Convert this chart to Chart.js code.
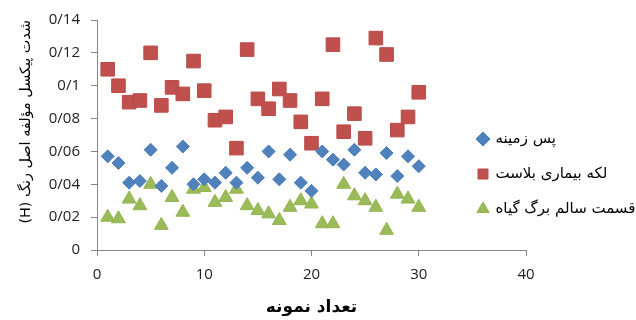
<!DOCTYPE html>
<html>
<head>
<meta charset="utf-8">
<script src="https://cdn.jsdelivr.net/npm/chart.js@4/dist/chart.umd.min.js"></script>
<style>
  html, body { margin: 0; padding: 0; background: #fff; }
  #wrap { width: 636px; height: 320px; }
</style>
</head>
<body>
<div id="wrap"><canvas id="c" dir="rtl" width="636" height="320"></canvas></div>
<script>
// ---- data ----
const sampleIndex = [1,2,3,4,5,6,7,8,9,10,11,12,13,14,15,16,17,18,19,20,21,22,23,24,25,26,27,28,29,30];
const seriesNames = ['پس زمینه', 'لکه بیماری بلاست', 'قسمت سالم برگ گیاه'];
const backgroundValues = [0.057,0.053,0.041,0.042,0.061,0.039,0.050,0.063,0.040,0.043,0.041,0.047,0.041,0.050,0.044,0.060,0.043,0.058,0.041,0.036,0.060,0.055,0.052,0.061,0.047,0.046,0.059,0.045,0.057,0.051];
const blastValues = [0.110,0.100,0.090,0.091,0.120,0.088,0.099,0.095,0.115,0.097,0.079,0.081,0.062,0.122,0.092,0.086,0.098,0.091,0.078,0.065,0.092,0.125,0.072,0.083,0.068,0.129,0.119,0.073,0.081,0.096];
const healthyValues = [0.020,0.019,0.031,0.027,0.040,0.015,0.032,0.023,0.037,0.038,0.029,0.032,0.037,0.027,0.024,0.022,0.018,0.026,0.030,0.028,0.016,0.016,0.040,0.033,0.030,0.026,0.012,0.034,0.031,0.026];
const xTickLabels = ['0','10','20','30','40'];
const yTickLabels = ['0','0/02','0/04','0/06','0/08','0/1','0/12','0/14'];
const xTitle = 'تعداد نمونه';
const yTitle = 'شدت پیکسل مؤلفه اصل رنگ (H)';

function toPoints(vals) { return vals.map((v, i) => ({ x: sampleIndex[i], y: v })); }

const legendMover = {
  id: 'legendMover',
  afterLayout(chart) {
    const lg = chart.legend;
    if (!lg) return;
    const w = lg.width;
    lg.left = 458; lg.top = 111.5;
    lg.right = lg.left + w; lg.bottom = lg.top + 200; lg.height = 200;
    lg.adjustHitBoxes();
  }
};

const tickFont = { family: '"Open Sans", "Liberation Sans", sans-serif', size: 15 };
const faFont = '"DejaVu Sans", "Noto Sans", sans-serif';

new Chart(document.getElementById('c'), {
  type: 'scatter',
  data: {
    datasets: [
      { label: seriesNames[0], data: toPoints(backgroundValues), pointStyle: 'rectRot', pointRadius: 6.5, backgroundColor: '#4F81BD', borderColor: '#4A7CB8', borderWidth: 1 },
      { label: seriesNames[1], data: toPoints(blastValues), pointStyle: 'rect', pointRadius: 9.6, backgroundColor: '#C0504D', borderColor: '#B84B48', borderWidth: 1 },
      { label: seriesNames[2], data: toPoints(healthyValues), pointStyle: 'triangle', pointRadius: 8, backgroundColor: '#9BBB59', borderColor: '#94B454', borderWidth: 1 }
    ]
  },
  options: {
    responsive: false,
    animation: false,
    events: [],
    layout: { padding: { left: 0, right: 110, top: 16, bottom: 0 } },
    plugins: {
      tooltip: { enabled: false },
      legend: {
        position: 'chartArea',
        align: 'start',
        labels: {
          usePointStyle: true,
          boxWidth: 10,
          boxHeight: 10,
          padding: 20,
          color: '#000',
          font: { family: faFont, size: 15 }
        }
      }
    },
    scales: {
      x: {
        type: 'linear',
        min: 0, max: 40,
        ticks: { stepSize: 10, padding: 10, color: '#222', font: tickFont, callback: (v, i) => xTickLabels[i] },
        grid: { drawOnChartArea: false, drawTicks: true, tickLength: 6, color: '#868686' },
        border: { display: true, color: '#868686', width: 1 },
        title: { display: true, text: xTitle, color: '#000', font: { family: faFont, size: 17, weight: 'bold' }, padding: { top: 0, bottom: 2 } },
        afterFit: (s) => { s.height = 70; }
      },
      y: {
        type: 'linear',
        min: 0, max: 0.14,
        ticks: { stepSize: 0.02, padding: 11, color: '#222', font: tickFont, callback: (v, i) => yTickLabels[i] },
        grid: { drawOnChartArea: false, drawTicks: true, tickLength: 6, color: '#868686' },
        border: { display: true, color: '#868686', width: 1 },
        title: { display: true, text: yTitle, align: 'end', color: '#000', font: { family: faFont, size: 14.4 }, padding: { top: 18, bottom: 0 } },
        afterFit: (s) => { s.width = 97; }
      }
    }
  },
  plugins: [legendMover]
});
</script>
</body>
</html>
